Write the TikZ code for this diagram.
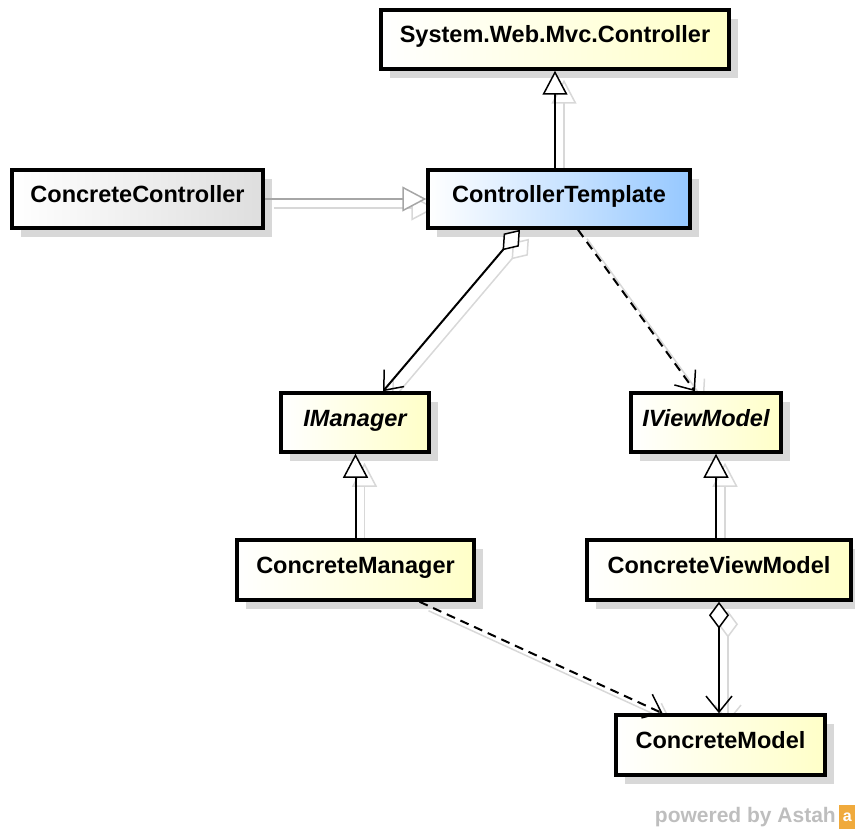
\documentclass[tikz,border=0pt]{standalone}
\usepackage{fontspec}
\setmainfont{Liberation Sans}
\usetikzlibrary{arrows.meta,shadows,backgrounds}
\definecolor{ylw}{RGB}{255,255,200}
\definecolor{blu}{RGB}{150,200,255}
\definecolor{gry}{RGB}{222,222,222}
\definecolor{shd}{RGB}{216,216,216}
\definecolor{txtg}{RGB}{190,190,190}
\definecolor{logoor}{RGB}{240,170,60}
\tikzset{
  cls/.style={draw=black, line width=3.5pt, inner sep=0pt,
    font=\fontsize{23.5}{26}\selectfont\bfseries,
    text height=17pt, text depth=10pt,
    left color=white, right color=ylw,
    drop shadow={fill=shd, opacity=1, shadow xshift=9pt, shadow yshift=-9pt}},
  conn/.style={line width=2pt, draw=black},
  gen/.style={-{Triangle[fill=white, length=24pt, width=25pt, line width=1.5pt]}},
  opena/.style={-{Straight Barb[length=16pt, width=26pt, line width=1.5pt]}},
  agg/.style={{Diamond[fill=white, length=27pt, width=20pt, line width=1.5pt]}-{Straight Barb[length=16pt, width=26pt, line width=1.5pt]}},
  depend/.style={dash pattern=on 9pt off 6pt},
  ghost/.style={draw=shd, solid, line width=1.5pt, transform canvas={xshift=9pt, yshift=-9pt}},
}
\newcommand\twoline[2]{%
  \begin{scope}[on background layer]\draw[#1,ghost] #2;\end{scope}
  \draw[#1] #2;}
\begin{document}
\begin{tikzpicture}[x=1pt,y=-1pt]
\useasboundingbox (0,0) rectangle (855,829);
% classes
\node[cls, minimum width=348, minimum height=59] (sys) at (555,39.5) {System.Web.Mvc.Controller};
\node[cls, right color=gry, minimum width=251, minimum height=58] (cc) at (137.5,199) {ConcreteController};
\node[cls, right color=blu, minimum width=262, minimum height=58] (ct) at (559,199) {ControllerTemplate};
\node[cls, minimum width=148, minimum height=59] (im) at (355,422.5) {\itshape IManager};
\node[cls, minimum width=150, minimum height=59] (iv) at (706,422.5) {\itshape IViewModel};
\node[cls, minimum width=237, minimum height=60] (cm) at (355.5,570) {ConcreteManager};
\node[cls, minimum width=264, minimum height=60] (cvm) at (719,570) {ConcreteViewModel};
\node[cls, minimum width=209, minimum height=60] (model) at (720.5,745) {ConcreteModel};
% anchor points
\coordinate (g1) at ([xshift=-4pt]ct.north);
\coordinate (a1s) at ([xshift=-39pt]ct.south);
\coordinate (a1e) at ([xshift=28pt]im.north);
\coordinate (d1s) at ([xshift=19pt]ct.south);
\coordinate (d1e) at ([xshift=-11pt]iv.north);
\coordinate (g3) at ([xshift=-3pt]cvm.north);
\coordinate (d2s) at ([xshift=64pt]cm.south);
\coordinate (d2e) at ([xshift=-58pt]model.north);
% connectors
\twoline{conn,gen}{(g1) -- (g1 |- sys.south)}
\twoline{conn,gen,draw=black!35,line width=1.5pt}{(cc.east) -- (ct.west)}
\twoline{conn,agg}{(a1s) -- (a1e)}
\twoline{conn,opena,depend}{(d1s) -- (d1e)}
\twoline{conn,gen}{(cm.north) -- (cm.north |- im.south)}
\twoline{conn,gen}{(g3) -- (g3 |- iv.south)}
\twoline{conn,opena,depend}{(d2s) -- (d2e)}
\twoline{conn,agg}{(cvm.south) -- (cvm.south |- model.north)}
% footer
\node[anchor=east, inner sep=0pt, text=txtg, font=\fontsize{21}{24}\selectfont\bfseries] (pw) at (836,817) {powered by Astah};
\node[anchor=west, inner sep=0pt, fill=logoor, minimum width=16, minimum height=24, text=white, font=\fontsize{16}{18}\selectfont\bfseries] (logo) at (839,817) {a};
\end{tikzpicture}
\end{document}
